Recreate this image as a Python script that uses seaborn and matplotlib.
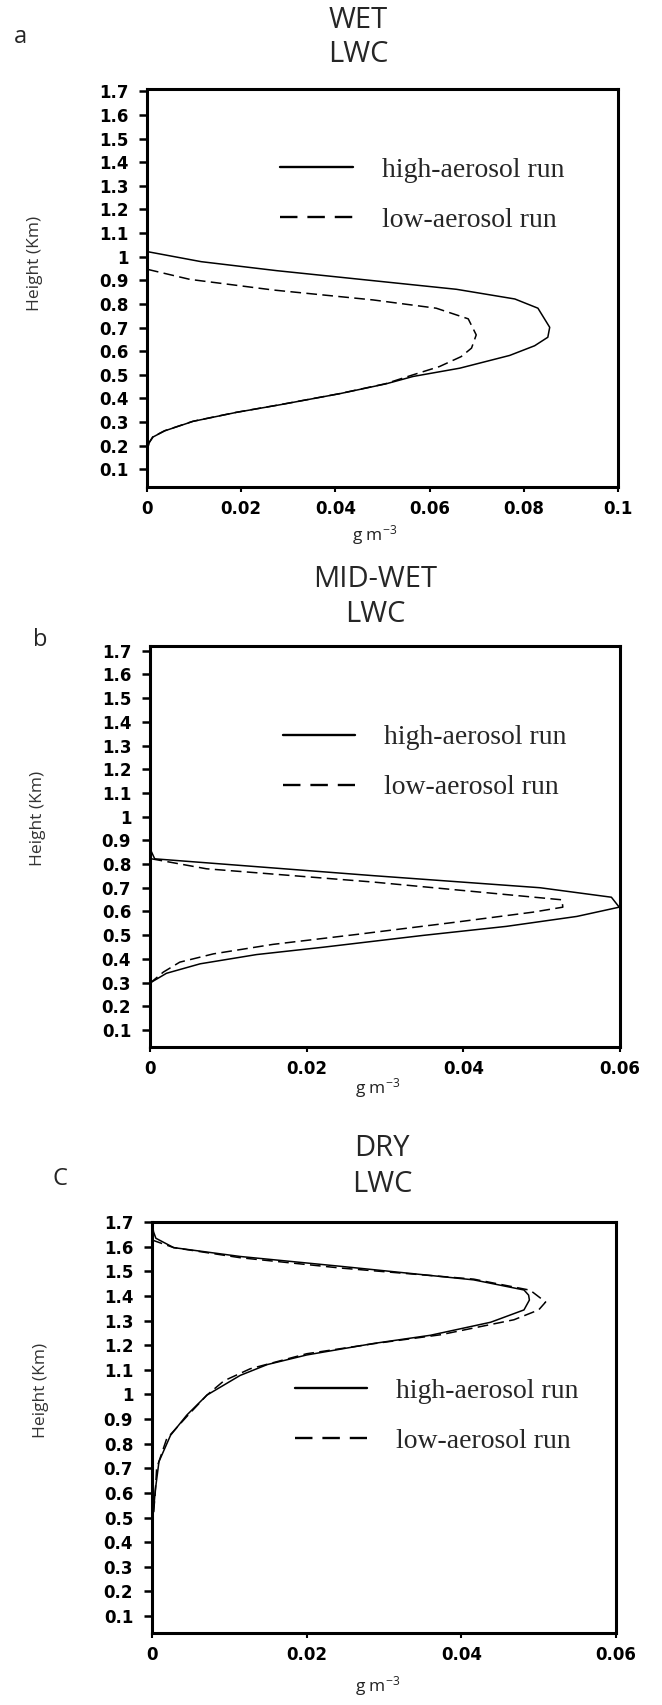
import matplotlib
matplotlib.use("Agg")
import matplotlib.pyplot as plt
from matplotlib.lines import Line2D
import seaborn as sns
import pandas as pd

sns.set_theme(style="white")
plt.rcParams["font.family"] = ["DejaVu Sans"]

# ---- LWC profiles (g m-3) versus height (km) ----
wet_high_h = [1.021, 0.979, 0.941, 0.862, 0.821, 0.782, 0.701, 0.659, 0.623, 0.582,
              0.528, 0.493, 0.462, 0.420, 0.373, 0.341, 0.303, 0.263, 0.237, 0.211, 0.183]
wet_high_v = [0.0002, 0.0115, 0.0275, 0.0657, 0.0781, 0.0830, 0.0855, 0.0851, 0.0823, 0.0770,
              0.0664, 0.0565, 0.0508, 0.0409, 0.0282, 0.0190, 0.0098, 0.0038, 0.0013, 0.0004, 0.0001]
wet_low_h = [0.946, 0.904, 0.859, 0.817, 0.782, 0.737, 0.669, 0.613, 0.577, 0.535,
             0.500, 0.462, 0.420, 0.373, 0.341, 0.303, 0.263, 0.237, 0.211, 0.183]
wet_low_v = [0.0002, 0.0091, 0.0268, 0.0480, 0.0614, 0.0682, 0.0699, 0.0689, 0.0667, 0.0621,
             0.0565, 0.0506, 0.0408, 0.0281, 0.0189, 0.0097, 0.0037, 0.0012, 0.0004, 0.0001]

mid_high_h = [0.858, 0.822, 0.751, 0.700, 0.660, 0.618, 0.579, 0.537, 0.499, 0.449,
              0.418, 0.379, 0.339, 0.300]
mid_high_v = [0.0001, 0.0006, 0.0285, 0.0498, 0.0589, 0.0599, 0.0545, 0.0455, 0.0349, 0.0221,
              0.0136, 0.0064, 0.0021, 0.0001]
mid_low_h = [0.822, 0.780, 0.724, 0.649, 0.618, 0.597, 0.555, 0.503, 0.461, 0.421,
             0.386, 0.344, 0.300]
mid_low_v = [0.0002, 0.0072, 0.0285, 0.0526, 0.0527, 0.0489, 0.0391, 0.0264, 0.0157, 0.0081,
             0.0038, 0.0017, 0.0001]

dry_high_h = [1.700, 1.660, 1.634, 1.596, 1.560, 1.520, 1.465, 1.424, 1.403, 1.383, 1.343,
              1.293, 1.240, 1.207, 1.160, 1.121, 1.077, 0.997, 0.916, 0.834, 0.727, 0.604,
              0.524, 0.500]
dry_high_v = [0.0000, 0.0002, 0.0005, 0.0028, 0.0114, 0.0244, 0.0416, 0.0481, 0.0487, 0.0488,
              0.0481, 0.0438, 0.0360, 0.0287, 0.0200, 0.0149, 0.0114, 0.0071, 0.0045, 0.0024,
              0.0009, 0.0004, 0.0002, 0.0000]
dry_low_h = [1.627, 1.596, 1.555, 1.513, 1.468, 1.423, 1.375, 1.343, 1.303, 1.242, 1.206,
             1.165, 1.104, 1.055, 0.997, 0.910, 0.820, 0.700, 0.590, 0.520, 0.500]
dry_low_v = [0.0000, 0.0028, 0.0114, 0.0244, 0.0416, 0.0489, 0.0509, 0.0500, 0.0468, 0.0373,
             0.0287, 0.0200, 0.0127, 0.0093, 0.0071, 0.0045, 0.0019, 0.0006, 0.0004, 0.0002,
             0.0000]

height_ticks = [0.1, 0.2, 0.3, 0.4, 0.5, 0.6, 0.7, 0.8, 0.9, 1.0,
                1.1, 1.2, 1.3, 1.4, 1.5, 1.6, 1.7]
height_labels = ["0.1", "0.2", "0.3", "0.4", "0.5", "0.6", "0.7", "0.8", "0.9", "1",
                 "1.1", "1.2", "1.3", "1.4", "1.5", "1.6", "1.7"]
lwc_ticks_a = [0, 0.02, 0.04, 0.06, 0.08, 0.1]
lwc_labels_a = ["0", "0.02", "0.04", "0.06", "0.08", "0.1"]
lwc_ticks_bc = [0, 0.02, 0.04, 0.06]
lwc_labels_bc = ["0", "0.02", "0.04", "0.06"]

run_names = ["high-aerosol run", "low-aerosol run"]
regimes = ["WET", "MID-WET", "DRY"]
panel_letters = ["a", "b", "C"]

W, H = 662, 1705
fig = plt.figure(figsize=(W / 100, H / 100), dpi=100)


def fx(px):
    return px / W


def fy(py):
    return 1 - py / H


# axes boxes in pixels: left, right, top, bottom
boxes = [(147, 618, 89, 487), (150, 620, 646, 1047), (152, 616, 1222, 1633)]
ylims = [(0.025, 1.71), (0.028, 1.72), (0.031, 1.70)]
xlims = [(0, 0.1), (0, 0.06), (0, 0.06)]
profiles = [
    (wet_high_h, wet_high_v, wet_low_h, wet_low_v),
    (mid_high_h, mid_high_v, mid_low_h, mid_low_v),
    (dry_high_h, dry_high_v, dry_low_h, dry_low_v),
]
xticks = [(lwc_ticks_a, lwc_labels_a), (lwc_ticks_bc, lwc_labels_bc), (lwc_ticks_bc, lwc_labels_bc)]
legend_anchor = [(0.283, 0.733), (0.283, 0.709), (0.308, 0.528)]
title_pos = [(358, 21, 55), (375, 580, 615), (382, 1148, 1185)]
letter_pos = [(14, 37), (33, 640), (52, 1179)]
ylabel_pos = [(35, 263), (38, 818), (41, 1390)]
xlabel_pos = [(375, 535), (378, 1088), (378, 1686)]

tick_font = {"family": "DejaVu Sans", "weight": "bold", "size": 12}

for i in range(3):
    l, r, t, b = boxes[i]
    ax = fig.add_axes([fx(l), fy(b), fx(r - l), (b - t) / H])
    hh, hv, lh, lv = profiles[i]
    df_high = pd.DataFrame({"lwc": hv, "height": hh})
    df_low = pd.DataFrame({"lwc": lv, "height": lh})
    sns.lineplot(data=df_high, x="lwc", y="height", sort=False, estimator=None,
                 color="black", lw=1.1, ax=ax)
    sns.lineplot(data=df_low, x="lwc", y="height", sort=False, estimator=None,
                 color="black", lw=1.1, ax=ax)
    ax.lines[-1].set_dashes((7, 3.5))
    ax.set_xlim(*xlims[i])
    ax.set_ylim(*ylims[i])
    ax.set_yticks(height_ticks)
    ax.set_yticklabels(height_labels, fontdict=tick_font)
    ax.set_xticks(xticks[i][0])
    ax.set_xticklabels(xticks[i][1], fontdict=tick_font)
    ax.set_xlabel("")
    ax.set_ylabel("")
    for s in ax.spines.values():
        s.set_visible(True)
        s.set_color("black")
        s.set_linewidth(2.2)
    ax.tick_params(axis="y", direction="out", length=5.5, width=1.8, pad=8,
                   left=True, colors="black")
    ax.tick_params(axis="x", direction="out", length=3.5, width=1.5, pad=6,
                   bottom=True, colors="black")

    handles = [Line2D([], [], color="black", lw=1.7),
               Line2D([], [], color="black", lw=1.7, dashes=(7.4, 4.2))]
    ax.legend(handles, run_names, loc="center left", bbox_to_anchor=legend_anchor[i],
              frameon=False, prop={"family": "Liberation Serif", "size": 20},
              handlelength=2.6, handletextpad=1.05, labelspacing=0.88,
              borderpad=0, borderaxespad=0)

    tx, ty1, ty2 = title_pos[i]
    fig.text(fx(tx), fy(ty1), regimes[i], ha="center", va="center",
             family="Open Sans", fontsize=21)
    fig.text(fx(tx), fy(ty2), "LWC", ha="center", va="center",
             family="Open Sans", fontsize=21)
    lx, ly = letter_pos[i]
    fig.text(fx(lx), fy(ly), panel_letters[i], ha="left", va="center",
             family="Open Sans", fontsize=17)
    yx, yy = ylabel_pos[i]
    fig.text(fx(yx), fy(yy), "Height (Km)", ha="center", va="center", rotation=90,
             family="Open Sans", fontsize=12.5, color="#333333")
    xx, xy = xlabel_pos[i]
    fig.text(fx(xx), fy(xy), "g m$\\mathregular{^{-3}}$", ha="center", va="center",
             family="Open Sans", fontsize=12.5, color="#222222")

fig.savefig("out.png", dpi=100, facecolor="white")
